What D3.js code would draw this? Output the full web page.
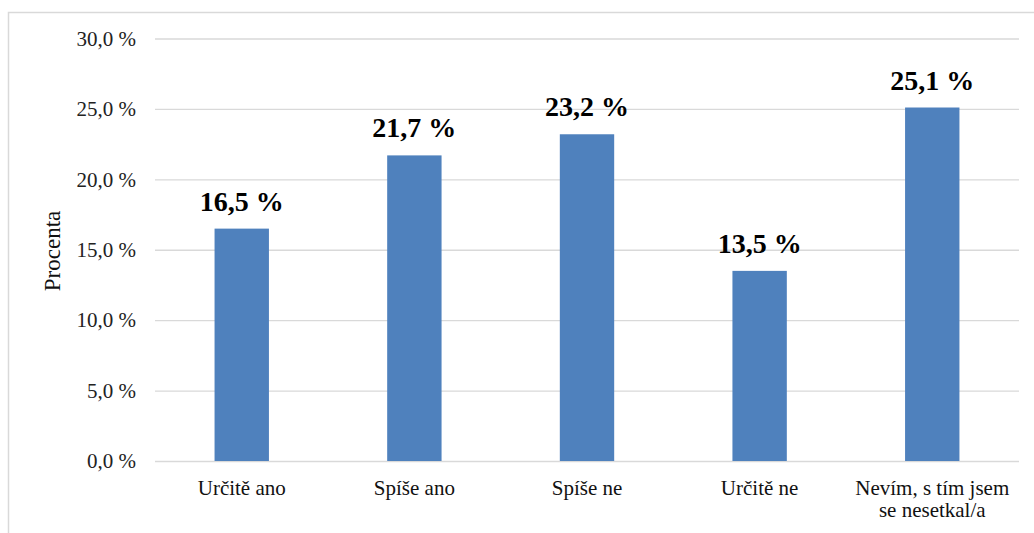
<!DOCTYPE html>
<html>
<head>
<meta charset="utf-8">
<script src="https://cdn.jsdelivr.net/npm/d3@7"></script>
<style>
  body { margin: 0; background: #fff; }
</style>
</head>
<body>
<script>
// data
let categories = ['Určitě ano', 'Spíše ano', 'Spíše ne', 'Určitě ne', 'Nevím, s tím jsem|se nesetkal/a'];
let values = [16.5, 21.7, 23.2, 13.5, 25.1];
let yTicks = [0, 5, 10, 15, 20, 25, 30];

let width = 1034;
let height = 533;
let serif = "'Liberation Serif', 'Times New Roman', serif";

let svg = d3.select('body')
    .append('svg')
    .attr('width', width)
    .attr('height', height)
    .style('font-family', serif);

// rámeček grafu
svg.append('rect')
    .attr('x', 8.5)
    .attr('y', 12.5)
    .attr('width', width + 10)
    .attr('height', height + 10)
    .attr('fill', 'none')
    .attr('stroke', '#d9d9d9')
    .attr('stroke-width', 1.5);

let plot = {left: 155, right: 1019, top: 38.5, bottom: 461};

let x = d3.scaleBand()
    .domain(categories)
    .range([plot.left, plot.right])
    .paddingInner(0.685)
    .paddingOuter(0.345);

let y = d3.scaleLinear()
    .domain([0, 30])
    .range([plot.bottom, plot.top]);

let fmt = d => d3.format('.1f')(d).replace('.', ',') + ' %';

// mřížka + popisky osy y
let yAxis = d3.axisLeft(y)
    .tickValues(yTicks)
    .tickSize(-(plot.right - plot.left))
    .tickPadding(19)
    .tickFormat(fmt);

let gy = svg.append('g')
    .attr('transform', 'translate(' + plot.left + ',0)')
    .call(yAxis)
    .attr('font-family', null)
    .attr('font-size', null);
gy.select('.domain').remove();
gy.selectAll('.tick line').attr('stroke', '#d9d9d9').attr('stroke-width', 1.3);
gy.selectAll('.tick text')
    .style('font-family', serif)
    .style('font-size', '21px')
    .attr('fill', '#222');

// sloupce
svg.selectAll('rect.bar')
    .data(values)
    .enter()
    .append('rect')
    .attr('class', 'bar')
    .attr('fill', '#4f81bd')
    .attr('x', (d, i) => x(categories[i]))
    .attr('y', d => y(d))
    .attr('width', x.bandwidth())
    .attr('height', d => y(0) - y(d));

// hodnoty nad sloupci
svg.selectAll('text.val')
    .data(values)
    .enter()
    .append('text')
    .attr('class', 'val')
    .attr('x', (d, i) => x(categories[i]) + x.bandwidth() / 2)
    .attr('y', d => y(d) - 18)
    .attr('text-anchor', 'middle')
    .style('font-family', serif)
    .style('font-size', '28px')
    .style('font-weight', 'bold')
    .attr('fill', '#000')
    .text(fmt);

// popisky kategorií
let xl = svg.selectAll('text.cat')
    .data(categories)
    .enter()
    .append('text')
    .attr('class', 'cat')
    .attr('text-anchor', 'middle')
    .style('font-family', serif)
    .style('font-size', '21px')
    .attr('fill', '#111')
    .attr('y', 495);
xl.selectAll('tspan')
    .data(d => d.split('|').map(s => ({s: s, c: d})))
    .enter()
    .append('tspan')
    .attr('x', d => x(d.c) + x.bandwidth() / 2)
    .attr('dy', (d, i) => i ? 22 : 0)
    .text(d => d.s);

// název osy y
svg.append('text')
    .attr('transform', 'translate(60,251) rotate(-90)')
    .attr('text-anchor', 'middle')
    .style('font-family', serif)
    .style('font-size', '23px')
    .attr('fill', '#111')
    .text('Procenta');
</script>
</body>
</html>
